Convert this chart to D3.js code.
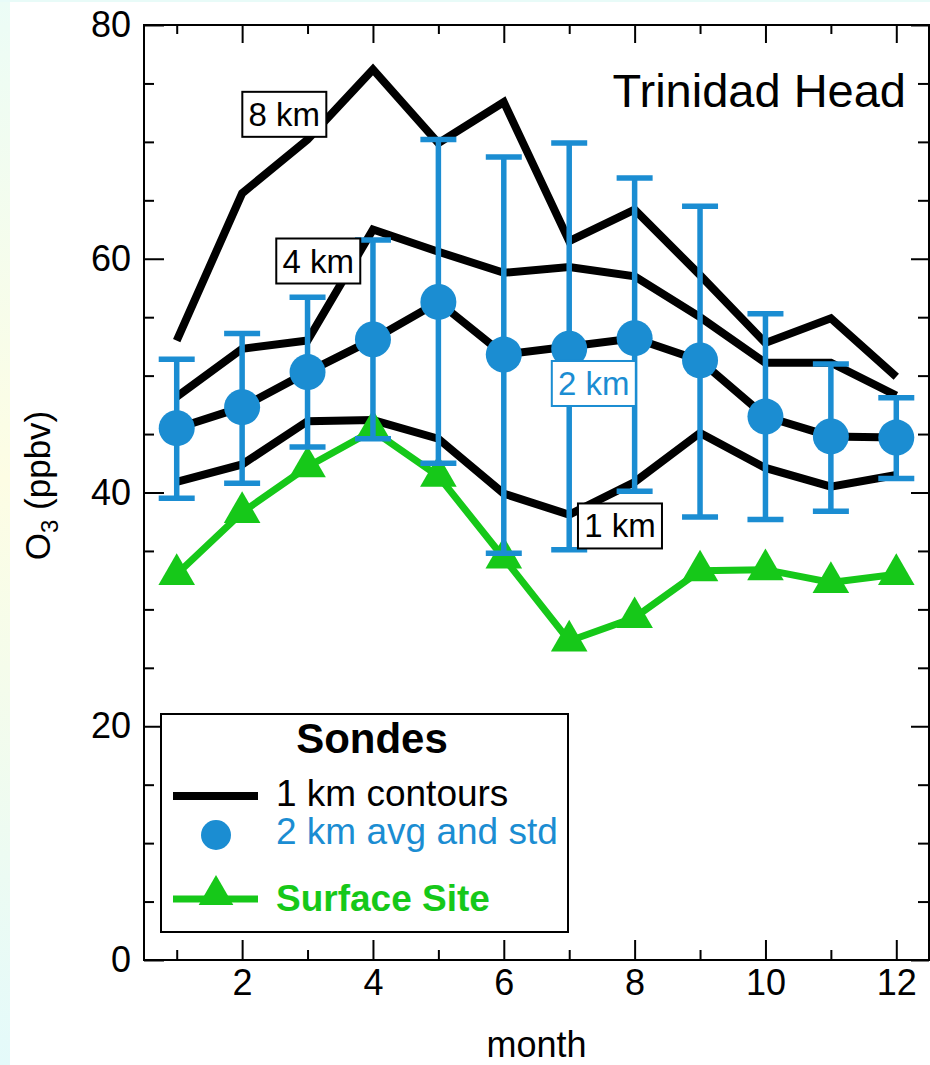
<!DOCTYPE html>
<html>
<head>
<meta charset="utf-8">
<script src="https://cdn.jsdelivr.net/npm/d3@7"></script>
<style>
  body { margin: 0; background: #fff; }
  svg { display: block; font-family: "Liberation Sans", Arial, Helvetica, sans-serif; }
</style>
</head>
<body>
<svg id="chart" width="930" height="1065"></svg>
<script>
// monthly ozone at Trinidad Head
let months = [1, 2, 3, 4, 5, 6, 7, 8, 9, 10, 11, 12];
let contour1km = [40.9, 42.4, 46.1, 46.2, 44.6, 39.9, 38.1, 40.9, 45.1, 42.1, 40.5, 41.5];
let contour2km = [45.5, 47.3, 50.3, 53.1, 56.3, 51.8, 52.5, 53.2, 51.3, 46.5, 44.8, 44.7];
let contour4km = [48.2, 52.3, 53.0, 62.5, 60.6, 58.8, 59.3, 58.5, 55.0, 51.1, 51.1, 48.3];
let contour8km = [53.0, 65.6, 70.2, 76.2, 69.9, 73.4, 61.5, 64.2, 58.6, 52.8, 54.9, 49.9];
let sondeMean = [45.5, 47.3, 50.3, 53.1, 56.3, 51.8, 52.3, 53.2, 51.3, 46.5, 44.8, 44.7];
let sondeHigh = [51.4, 53.6, 56.7, 61.6, 70.2, 68.7, 69.9, 66.9, 64.5, 55.3, 51.0, 48.1];
let sondeLow = [39.5, 40.8, 43.9, 44.6, 42.5, 34.8, 35.1, 40.1, 37.9, 37.7, 38.4, 41.2];
let surface = [33.0, 38.3, 42.2, 45.3, 41.4, 34.4, 27.3, 29.3, 33.3, 33.4, 32.3, 33.0];

let xMajor = [2, 4, 6, 8, 10, 12],
    xMinor = [1, 3, 5, 7, 9, 11],
    yMajor = [0, 20, 40, 60, 80],
    yMinor = [5, 10, 15, 25, 30, 35, 45, 50, 55, 65, 70, 75];

// contour labels placed in data units (month, ppbv)
let contourLabels = [
  {text: "8 km", m: 2.645, v: 72.4, color: "#000"},
  {text: "4 km", m: 3.164, v: 59.85, color: "#000"},
  {text: "2 km", m: 7.376, v: 49.37, color: "#1b8dd2"},
  {text: "1 km", m: 7.776, v: 37.18, color: "#000"}
];

let blue = "#1b8dd2",
    green = "#16c819";

let margins = {left: 144, right: 1, top: 25, bottom: 105},
    width = 930,
    height = 1065;

let svg = d3.select("#chart");

// faint tint along the page edge
let defs = svg.append("defs");
let lg = defs.append("linearGradient")
  .attr("id", "edgeGrad")
  .attr("x1", 0).attr("y1", 0).attr("x2", 0).attr("y2", 1);
lg.append("stop").attr("offset", "0%").attr("stop-color", "#ecfcf6");
lg.append("stop").attr("offset", "45%").attr("stop-color", "#fdfde4");
lg.append("stop").attr("offset", "100%").attr("stop-color", "#e4fafa");
svg.append("rect").attr("x", 0).attr("y", 0).attr("width", 10).attr("height", height)
  .attr("fill", "url(#edgeGrad)");
svg.append("rect").attr("x", 0).attr("y", 0).attr("width", width).attr("height", 2)
  .attr("fill", "#e8fbf8");

let x = d3.scaleLinear().domain([0.5, 12.5]).range([margins.left, width - margins.right]);
let y = d3.scaleLinear().domain([0, 80]).range([height - margins.bottom, margins.top]);

// axes: ticks point inward on all four sides
function axisGroup(axis, transform) {
  let g = svg.append("g").attr("transform", transform).call(axis);
  g.select(".domain").remove();
  g.selectAll("line").attr("stroke", "#000").attr("stroke-width", 2);
  g.selectAll("text").attr("font-size", 36).attr("fill", "#000")
    .attr("font-family", "Liberation Sans, Arial, sans-serif");
  return g;
}

let bottomY = y(0), topY = y(80), leftX = x(0.5), rightX = x(12.5);

axisGroup(d3.axisBottom(x).tickValues(xMajor).tickSize(-20).tickPadding(9).tickFormat(d3.format("d")),
  `translate(0, ${bottomY})`);
axisGroup(d3.axisBottom(x).tickValues(xMinor).tickSize(-10).tickFormat(""),
  `translate(0, ${bottomY})`);
axisGroup(d3.axisTop(x).tickValues(xMajor).tickSize(-18).tickFormat(""),
  `translate(0, ${topY})`);
axisGroup(d3.axisTop(x).tickValues(xMinor).tickSize(-9).tickFormat(""),
  `translate(0, ${topY})`);

axisGroup(d3.axisLeft(y).tickValues(yMajor).tickSize(-20).tickPadding(13).tickFormat(d3.format("d")),
  `translate(${leftX}, 0)`);
axisGroup(d3.axisLeft(y).tickValues(yMinor).tickSize(-10).tickFormat(""),
  `translate(${leftX}, 0)`);
axisGroup(d3.axisRight(y).tickValues(yMajor).tickSize(-18).tickFormat(""),
  `translate(${rightX}, 0)`);
axisGroup(d3.axisRight(y).tickValues(yMinor).tickSize(-11).tickFormat(""),
  `translate(${rightX}, 0)`);

svg.append("rect")
  .attr("x", leftX).attr("y", topY)
  .attr("width", rightX - leftX).attr("height", bottomY - topY)
  .attr("fill", "none").attr("stroke", "#000").attr("stroke-width", 2);

// axis titles
svg.append("text")
  .attr("x", (leftX + rightX) / 2).attr("y", 1057)
  .attr("text-anchor", "middle").attr("font-size", 36)
  .text("month");

let yTitle = svg.append("text")
  .attr("transform", `translate(50, ${y(40) - 7}) rotate(-90)`)
  .attr("text-anchor", "middle").attr("font-size", 35);
yTitle.append("tspan").text("O");
yTitle.append("tspan").attr("font-size", 24).attr("dy", 8).text("3");
yTitle.append("tspan").attr("dy", -8).text(" (ppbv)");

svg.append("text")
  .attr("x", 906).attr("y", 107)
  .attr("text-anchor", "end").attr("font-size", 47)
  .text("Trinidad Head");

let plot = svg.append("g");

let line = d3.line()
  .x((d, i) => x(months[i]))
  .y(d => y(d));

// black contour lines
[contour1km, contour2km, contour4km, contour8km].forEach(series => {
  plot.append("path")
    .datum(series)
    .attr("d", line)
    .attr("fill", "none")
    .attr("stroke", "#000")
    .attr("stroke-width", 8)
    .attr("stroke-linejoin", "miter");
});

// surface site
plot.append("path")
  .datum(surface)
  .attr("d", line)
  .attr("fill", "none")
  .attr("stroke", green)
  .attr("stroke-width", 7);

plot.selectAll(".tri")
  .data(surface)
  .enter()
  .append("path")
  .attr("class", "tri")
  .attr("transform", (d, i) => `translate(${x(months[i])}, ${y(d)})`)
  .attr("d", d3.symbol(d3.symbolTriangle, 580))
  .attr("fill", green);

// 2 km error bars
let bars = plot.selectAll(".bar")
  .data(months)
  .enter()
  .append("g")
  .attr("class", "bar")
  .attr("stroke", blue)
  .attr("stroke-width", 5.5);
bars.append("line")
  .attr("x1", d => x(d)).attr("x2", d => x(d))
  .attr("y1", (d, i) => y(sondeLow[i])).attr("y2", (d, i) => y(sondeHigh[i]));
bars.append("line")
  .attr("x1", d => x(d) - 18).attr("x2", d => x(d) + 18)
  .attr("y1", (d, i) => y(sondeHigh[i])).attr("y2", (d, i) => y(sondeHigh[i]));
bars.append("line")
  .attr("x1", d => x(d) - 18).attr("x2", d => x(d) + 18)
  .attr("y1", (d, i) => y(sondeLow[i])).attr("y2", (d, i) => y(sondeLow[i]));

plot.selectAll(".avg")
  .data(sondeMean)
  .enter()
  .append("circle")
  .attr("class", "avg")
  .attr("cx", (d, i) => x(months[i]))
  .attr("cy", d => y(d))
  .attr("r", 18)
  .attr("fill", blue);

// contour labels
let labels = plot.selectAll(".clabel")
  .data(contourLabels)
  .enter()
  .append("g")
  .attr("class", "clabel")
  .attr("transform", d => `translate(${x(d.m)}, ${y(d.v)})`);
labels.append("rect")
  .attr("x", -42).attr("y", -22).attr("width", 84).attr("height", 45)
  .attr("fill", "#fff")
  .attr("stroke", d => d.color)
  .attr("stroke-width", 2);
labels.append("text")
  .attr("text-anchor", "middle")
  .attr("y", 12)
  .attr("font-size", 33)
  .attr("fill", d => d.color)
  .text(d => d.text);

// legend
let legend = svg.append("g");
legend.append("rect")
  .attr("x", 161).attr("y", 714).attr("width", 407).attr("height", 218)
  .attr("fill", "#fff").attr("stroke", "#000").attr("stroke-width", 2);
legend.append("text")
  .attr("x", 372).attr("y", 753)
  .attr("text-anchor", "middle").attr("font-size", 42).attr("font-weight", "bold")
  .text("Sondes");
legend.append("line")
  .attr("x1", 173).attr("x2", 258).attr("y1", 796).attr("y2", 796)
  .attr("stroke", "#000").attr("stroke-width", 8);
legend.append("text")
  .attr("x", 276).attr("y", 806).attr("font-size", 37)
  .text("1 km contours");
legend.append("circle")
  .attr("cx", 216).attr("cy", 835).attr("r", 15).attr("fill", blue);
legend.append("text")
  .attr("x", 276).attr("y", 844).attr("font-size", 37).attr("fill", blue)
  .text("2 km avg and std");
legend.append("line")
  .attr("x1", 173).attr("x2", 258).attr("y1", 899).attr("y2", 899)
  .attr("stroke", green).attr("stroke-width", 7);
legend.append("path")
  .attr("transform", "translate(216, 895)")
  .attr("d", d3.symbol(d3.symbolTriangle, 520))
  .attr("fill", green);
legend.append("text")
  .attr("x", 276).attr("y", 911).attr("font-size", 37).attr("font-weight", "bold")
  .attr("fill", green)
  .text("Surface Site");
</script>
</body>
</html>
